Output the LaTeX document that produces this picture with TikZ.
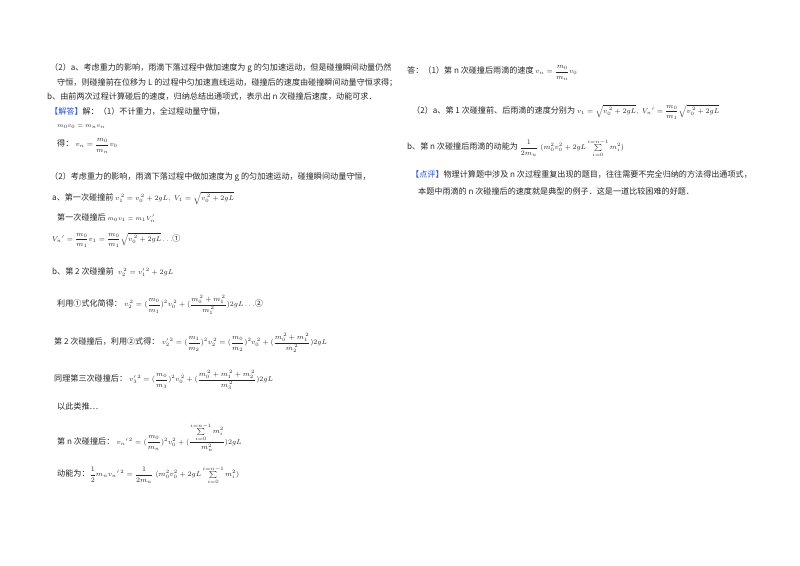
\documentclass[tikz,border=0pt]{standalone}
\usepackage{fontspec}
\usepackage{amsmath}
\setmainfont{Noto Sans CJK SC}
\newfontfamily\cjk{Noto Sans CJK SC}
\definecolor{hl}{RGB}{40,80,230}
\newcommand{\mm}[1]{{\fontsize{7}{9}\selectfont$#1$}}
\begin{document}
\begin{tikzpicture}[x=1pt,y=-1pt,
  t/.style={anchor=west,inner sep=0pt,font=\fontsize{8.1}{10}\selectfont\cjk,text=black!85}]
\useasboundingbox (0,0) rectangle (800,565);
\fill[white] (0,0) rectangle (800,565);
\node[t] (l1) at (50,68) {（2）a、考虑重力的影响，雨滴下落过程中做加速度为 g 的匀加速运动，但是碰撞瞬间动量仍然};
\node[t] (l2) at (57,83) {守恒，则碰撞前在位移为 L 的过程中匀加速直线运动，碰撞后的速度由碰撞瞬间动量守恒求得；};
\node[t] (l3) at (47,97) {b、由前两次过程计算碰后的速度，归纳总结出通项式，表示出 n 次碰撞后速度，动能可求．};
\node[t] (l4) at (50,111) {{\color{hl}【解答】}解：（1）不计重力，全过程动量守恒，};
\node[t] (l5) at (57,127) {{\fontsize{6}{7}\selectfont$m_0v_0=m_nv_n$}};
\node[t] (l6) at (57,146) {得：\;\mm{v_n=\dfrac{m_0}{m_n}v_0}};
\node[t] (l7) at (50,177) {（2）考虑重力的影响，雨滴下落过程中做加速度为 g 的匀加速运动，碰撞瞬间动量守恒，};
\node[t] (l8) at (52,198) {a、第一次碰撞前 \mm{v_1^{\,2}=v_0^{\,2}+2gL,\; V_1=\sqrt{v_0^{\,2}+2gL}}};
\node[t] (l9) at (57,218) {第一次碰撞后 {\fontsize{6.5}{7}\selectfont$m_0v_1=m_1V_n'$}};
\node[t] (l10) at (52,240) {\mm{V_n{}'=\dfrac{m_0}{m_1}v_1=\dfrac{m_0}{m_1}\sqrt{v_0^{\,2}+2gL}\ldots}①};
\node[t] (l11) at (52,272) {b、第 2 次碰撞前 \;\mm{v_2^{\,2}=v'_1{}^{2}+2gL}};
\node[t] (l12) at (57,305) {利用①式化简得：\;\mm{v_2^{\,2}=(\dfrac{m_0}{m_1})^2 v_0^{\,2}+(\dfrac{m_0^{\,2}+m_1^{\,2}}{m_1^{\,2}})2gL\ldots}②};
\node[t] (l13) at (54,343) {第 2 次碰撞后，利用②式得：\;\mm{v'_2{}^{2}=(\dfrac{m_1}{m_2})^2v_2^{\,2}=(\dfrac{m_0}{m_2})^2 v_0^{\,2}+(\dfrac{m_0^{\,2}+m_1^{\,2}}{m_2^{\,2}})2gL}};
\node[t] (l14) at (54,380) {同理第三次碰撞后：\;\mm{v'_3{}^{2}=(\dfrac{m_0}{m_3})^2 v_0^{\,2}+(\dfrac{m_0^{\,2}+m_1^{\,2}+m_2^{\,2}}{m_3^{\,2}})2gL}};
\node[t] (l15) at (57,406) {以此类推…};
\node[t] (l16) at (57,437) {第 n 次碰撞后：\;\mm{v_n{}'^{\,2}=(\dfrac{m_0}{m_n})^2v_0^{2}+(\dfrac{\sum\limits_{i=0}^{i=n-1}m_i^2}{m_n^2})2gL}};
\node[t] (l17) at (57,475) {动能为：\mm{\dfrac12 m_nv_n{}'^{\,2}=\dfrac{1}{2m_n}\;(m_0^2v_0^2+2gL\sum\limits_{i=0}^{i=n-1}m_i^2)}};
\node[t] (r1) at (407,73) {答：（1）第 n 次碰撞后雨滴的速度 \mm{v_n=\dfrac{m_0}{m_n}v_0}};
\node[t] (r2) at (412,112) {（2）a、第 1 次碰撞前、后雨滴的速度分别为 \mm{v_1=\sqrt{v_0^{\,2}+2gL},\;V_n{}'=\dfrac{m_0}{m_1}\sqrt{v_0^{\,2}+2gL}}};
\node[t] (r3) at (407,148) {b、第 n 次碰撞后雨滴的动能为 \mm{\dfrac{1}{2m_n}\;(m_0^2v_0^2+2gL\sum\limits_{i=0}^{i=n-1}m_i^2)}};
\node[t] (r4) at (411,174) {{\color{hl}【点评】}物理计算题中涉及 n 次过程重复出现的题目，往往需要不完全归纳的方法得出通项式，};
\node[t] (r5) at (418,191) {本题中雨滴的 n 次碰撞后的速度就是典型的例子．这是一道比较困难的好题．};
\end{tikzpicture}
\end{document}
